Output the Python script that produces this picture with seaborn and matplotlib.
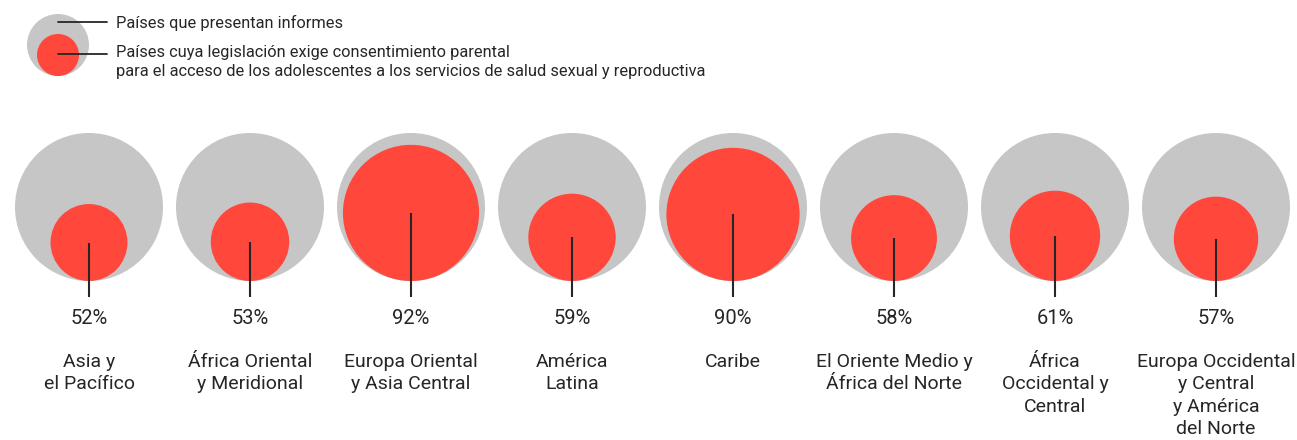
import matplotlib
matplotlib.use("Agg")
import matplotlib.pyplot as plt
from matplotlib.patches import Circle
import seaborn as sns

# Data
regions = [
    "Asia y\nel Pacífico",
    "África Oriental\ny Meridional",
    "Europa Oriental\ny Asia Central",
    "América\nLatina",
    "Caribe",
    "El Oriente Medio y\nÁfrica del Norte",
    "África\nOccidental y\nCentral",
    "Europa Occidental\ny Central\ny América\ndel Norte",
]
pct_parental = [52, 53, 92, 59, 90, 58, 61, 57]
legend_labels = [
    "Países que presentan informes",
    "Países cuya legislación exige consentimiento parental\n"
    "para el acceso de los adolescentes a los servicios de salud sexual y reproductiva",
]

GREY = "#c6c6c6"
RED = "#ff473b"
INK = "#262626"

sns.set_theme(style="white")
plt.rcParams["font.family"] = ["Roboto", "DejaVu Sans"]

fig = plt.figure(figsize=(12.97, 4.40), dpi=100)
ax = fig.add_axes([0, 0, 1, 1])
ax.set_xlim(0, 1297)
ax.set_ylim(440, 0)
ax.axis("off")

# layout (pixels)
x0, dx, cy, R = 89, 161, 207, 74
line_end = 297

for i, (name, p) in enumerate(zip(regions, pct_parental)):
    cx = x0 + i * dx
    r = R * p / 100
    ry = cy + R - r
    ax.add_patch(Circle((cx, cy), R, color=GREY, lw=0))
    ax.add_patch(Circle((cx, ry), r, color=RED, lw=0))
    ax.plot([cx, cx], [ry, line_end], color=INK, lw=1.5, solid_capstyle="butt")
    ax.text(cx, 319, f"{p}%", ha="center", va="center", fontsize=14.5,
            color=INK)
    ax.text(cx, 353, name, ha="center", va="top", fontsize=14,
            color=INK, linespacing=1.32)

# legend
ax.add_patch(Circle((58, 45), 31, color=GREY, lw=0))
ax.add_patch(Circle((58, 55), 21, color=RED, lw=0))
ax.plot([58, 107], [22.5, 22.5], color=INK, lw=1.3)
ax.plot([58, 107], [54, 54], color=INK, lw=1.3)
ax.text(116, 22.5, legend_labels[0], ha="left", va="center", fontsize=11.8,
        color=INK)
ax.text(116, 45, legend_labels[1], ha="left", va="top", fontsize=11.8,
        color=INK, linespacing=1.3)

fig.savefig("out.png", dpi=100)
